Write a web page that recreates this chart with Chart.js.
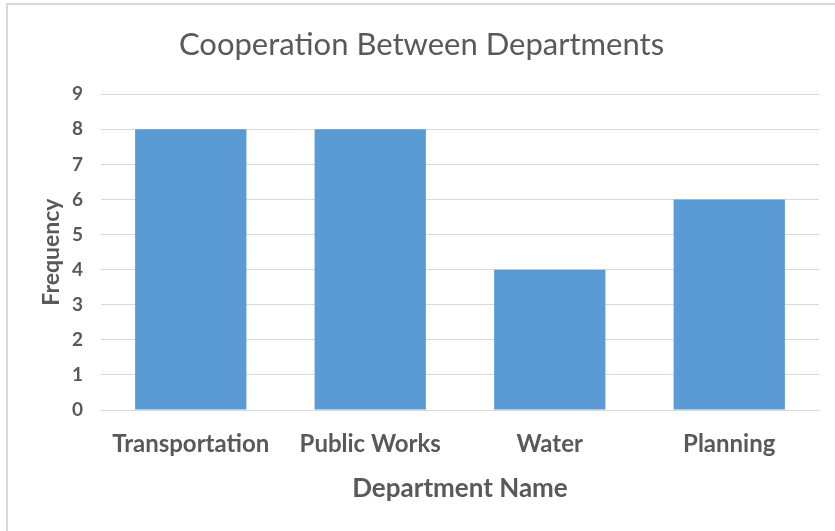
<!DOCTYPE html>
<html>
<head>
<meta charset="utf-8">
<script src="https://cdn.jsdelivr.net/npm/chart.js@4"></script>
<style>
  html, body { margin: 0; padding: 0; background: #ffffff; }
  body { width: 835px; height: 531px; overflow: hidden; position: relative; }
  #frame {
    position: absolute; left: 6px; top: 3px; width: 827px; height: 526px;
    border-left: 2px solid #d9d9d9; border-top: 2px solid #d9d9d9;
  }
  #chart { display: block; }
</style>
</head>
<body>
<div id="frame"><canvas id="chart" width="827" height="526"></canvas></div>
<script>
const departments = ['Transportation', 'Public Works', 'Water', 'Planning'];
const frequency = [8, 8, 4, 6];
const yTicks = [0, 1, 2, 3, 4, 5, 6, 7, 8, 9];

const textColor = '#595959';
const fontFamily = 'Lato, "Open Sans", sans-serif';

new Chart(document.getElementById('chart'), {
  type: 'bar',
  data: {
    labels: departments,
    datasets: [{
      label: 'Frequency',
      data: frequency,
      backgroundColor: '#5b9bd5',
      borderWidth: 0,
      categoryPercentage: 1,
      barPercentage: 0.62
    }]
  },
  options: {
    responsive: false,
    animation: false,
    layout: { padding: 0 },
    plugins: {
      legend: { display: false },
      tooltip: { enabled: false },
      title: {
        display: true,
        text: 'Cooperation Between Departments',
        color: textColor,
        font: { family: fontFamily, size: 31, weight: 'normal' },
        padding: { top: 21, bottom: 31 }
      }
    },
    scales: {
      x: {
        grid: { display: false, drawTicks: false },
        border: { display: true, color: '#d9d9d9', width: 1 },
        ticks: {
          color: textColor,
          padding: 20,
          font: { family: fontFamily, size: 24, weight: 'bold' }
        },
        title: {
          display: true,
          text: 'Department Name',
          color: textColor,
          font: { family: fontFamily, size: 26, weight: 'bold' },
          padding: { top: 0, bottom: 27 }
        },
        afterFit: (scale) => { scale.height = 121; }
      },
      y: {
        min: 0,
        max: 9,
        afterBuildTicks: (scale) => { scale.ticks = yTicks.map(v => ({ value: v })); },
        grid: { color: '#d9d9d9', lineWidth: 1, drawTicks: false },
        border: { display: false },
        ticks: {
          color: textColor,
          padding: 18,
          font: { family: fontFamily, size: 19, weight: 'bold' }
        },
        title: {
          display: true,
          text: 'Frequency',
          color: textColor,
          font: { family: fontFamily, size: 23, weight: 'bold' },
          padding: { top: 30, bottom: 0 }
        },
        afterFit: (scale) => { scale.width = 93; }
      },
      // empty right-hand margin strip, keeps the title centred on the full width
      margin: {
        position: 'right',
        min: 0,
        max: 9,
        grid: { display: false, drawTicks: false },
        border: { display: false },
        ticks: { display: false },
        afterFit: (scale) => { scale.width = 16; }
      }
    }
  }
});
</script>
</body>
</html>
